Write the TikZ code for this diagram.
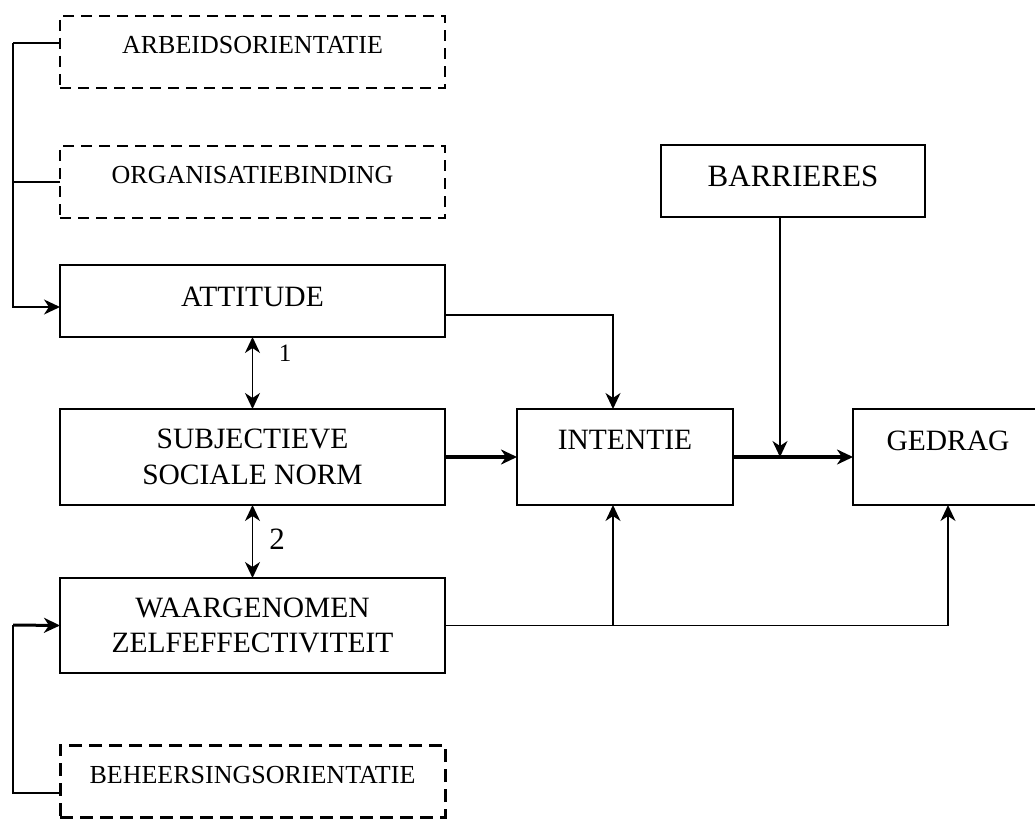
\documentclass[tikz,border=0pt]{standalone}
\usepackage{fontspec}
\setmainfont{Liberation Serif}
\usetikzlibrary{positioning,arrows.meta}

\begin{document}
\begin{tikzpicture}[x=1pt, y=-1pt, >={Stealth[length=16pt, width=15pt, inset=5pt]},
    every node/.style={inner sep=0pt, outer sep=0pt},
    box/.style={draw, line width=2pt, minimum width=385pt, minimum height=72pt},
    dashbox/.style={box, line width=1.8pt, dash pattern=on 11pt off 7pt},
    heavydash/.style={box, line width=3pt, dash pattern=on 13pt off 7pt},
    smallfont/.style={font=\fontsize{26}{30}\selectfont, text height=17.2pt},
    mainfont/.style={font=\fontsize{29.5}{35.5}\selectfont},
    conn/.style={line width=1.8pt},
    strong/.style={line width=4.5pt}]
    \useasboundingbox (0,0) rectangle (1035,821);
    \node[dashbox, smallfont, text depth=15pt] (arb) at (252.5,52) {ARBEIDSORIENTATIE};
    \node[dashbox, smallfont, text depth=14pt, below=58pt of arb] (org) {ORGANISATIEBINDING};
    \node[box, mainfont, text height=19.5pt, text depth=8pt, below=47pt of org] (att) {ATTITUDE};
    \node[box, mainfont, align=center, minimum height=96pt, below=72pt of att] (subj) {SUBJECTIEVE\\SOCIALE NORM};
    \node[box, mainfont, align=center, minimum height=95pt, below=73pt of subj] (waar) {WAARGENOMEN\\ZELFEFFECTIVITEIT};
    \node[heavydash, smallfont, text depth=12pt, below=72pt of waar] (beh) {BEHEERSINGSORIENTATIE};
    \node[box, mainfont, minimum width=216pt, minimum height=96pt, text height=19.5pt, text depth=34pt, right=72pt of subj] (int) {INTENTIE};
    \node[box, mainfont, minimum width=190pt, minimum height=96pt, text height=19.5pt, text depth=32pt, right=120pt of int] (ged) {GEDRAG};
    \node[box, font=\fontsize{31}{36}\selectfont, minimum width=264pt, text height=20.5pt, text depth=10pt] (bar) at (793,181) {BARRIERES};
    \node[font=\fontsize{25}{30}\selectfont] (one) at (285,353) {1};
    \node[font=\fontsize{31}{36}\selectfont] (two) at (277,539.5) {2};
    \coordinate (ltop) at (13,43);
    \coordinate (wbend) at (13,625);
    \coordinate (bmeet) at (780,457);
    \draw[conn] ([yshift=9pt]arb.west) -- (ltop);
    \draw[conn,->] (ltop) |- ([yshift=-6pt]att.west);
    \draw[conn] (org.west) -- (org.west -| ltop);
    \draw[conn,<->] (att) -- (subj);
    \draw[conn,<->] (subj) -- (waar);
    \draw[conn,->] ([yshift=-14pt]att.east) -| ([xshift=-12pt]int.north);
    \draw[strong,->] (subj) -- (int);
    \draw[strong,->] (int) -- (ged);
    \draw[conn,->] (bar.south -| bmeet) -- (bmeet);
    \draw[conn,->] (waar.east) -| (ged.south);
    \draw[conn,->] ([xshift=-12pt]int.south |- waar.east) -- ([xshift=-12pt]int.south);
    \draw[conn] ([yshift=-12pt]beh.west) -| (wbend);
    \draw[line width=3pt,->] (wbend) -- (waar.west);
  \end{tikzpicture}
\end{document}
